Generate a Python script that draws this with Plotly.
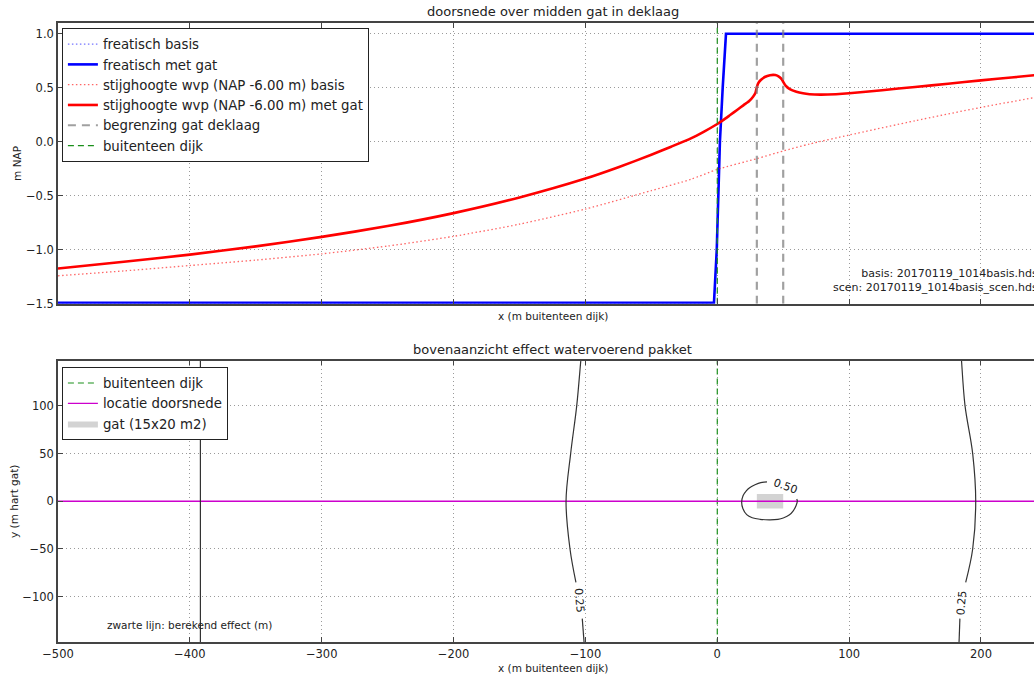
import plotly.graph_objects as go

# ---------------- doorsnede (cross-section) data ----------------
x_freatisch = [-500, -2.5, -0.4, 0.6, 2.0, 4.1, 6.6, 250]
freatisch_basis = [-1.49, -1.49, -1.0, -0.5, 0.0, 0.5, 1.0, 1.0]
freatisch_met_gat = [-1.49, -1.49, -1.0, -0.5, 0.0, 0.5, 1.0, 1.0]

x_stijg_basis = [-500, -450, -400, -350, -300, -250, -200, -150, -100, -50,
                 -20, 0, 30, 50, 70, 100, 150, 200, 250]
stijg_basis = [-1.24, -1.195, -1.145, -1.095, -1.037, -0.965, -0.875, -0.762,
               -0.622, -0.452, -0.347, -0.255, -0.156, -0.085, -0.02, 0.063,
               0.195, 0.319, 0.43]

x_stijg_gat = [-500, -450, -400, -350, -300, -250, -200, -150, -100, -75, -50,
               -35, -20, -10, 0, 5, 10, 15, 20, 24, 27, 29, 30, 31, 33, 36, 40,
               44, 47, 49, 50, 52, 55, 60, 65, 70, 78, 90, 100, 125, 150, 175,
               200, 225, 250]
stijg_gat = [-1.173, -1.11, -1.044, -0.968, -0.88, -0.78, -0.66, -0.515, -0.34,
             -0.235, -0.12, -0.045, 0.032, 0.095, 0.165, 0.205, 0.25, 0.295,
             0.34, 0.375, 0.415, 0.455, 0.505, 0.54, 0.572, 0.60, 0.617, 0.618,
             0.602, 0.578, 0.555, 0.517, 0.487, 0.463, 0.449, 0.441, 0.437,
             0.441, 0.449, 0.478, 0.508, 0.538, 0.569, 0.598, 0.628]

gat_grenzen = [30, 50]          # x-limits of the hole in the cover layer
gat_breedte_y = [-7.5, 7.5]     # y-limits of the hole (15 x 20 m2)
buitenteen = 0

# ---------------- bovenaanzicht (plan view) contours ----------------
c025_links_boven_x = [-103.3, -103.6, -106.6, -111.2, -114.7, -111.7, -107.2]
c025_links_boven_y = [150, 146, 100, 50, 0, -50, -85]
c025_links_onder_x = [-102.4, -100.9]
c025_links_onder_y = [-123, -150]

c025_rechts_boven_x = [185.1, 185.3, 187.9, 193.7, 196.0, 193.7, 188.4]
c025_rechts_boven_y = [150, 146, 100, 50, 0, -50, -85]
c025_rechts_onder_x = [184.0, 183.3]
c025_rechts_onder_y = [-123, -150]

c050_x = [37.7, 33.0, 28.6, 24.8, 22.0, 19.6, 18.5, 19.4, 22.3, 26.5, 32.4,
          40.0, 46.0, 50.0, 54.5, 57.6, 59.8, 60.7, 60.2]
c050_y = [20.4, 19.6, 17.3, 14.5, 11.0, 6.0, -1.0, -7.5, -14.0, -17.3, -18.9,
          -19.4, -18.9, -17.6, -14.5, -10.0, -4.5, 0.5, 2.3]

c_rand_x = [-392, -392]
c_rand_y = [-150, 150]

y_ticks_top = [1.0, 0.5, 0.0, -0.5, -1.0, -1.5]
y_ticks_bot = [100, 50, 0, -50, -100]
x_ticks = [-500, -400, -300, -200, -100, 0, 100, 200]

FONT = "DejaVu Sans"
TXT = "#222222"
FRAME = "#444444"
GRID = "#9a9a9a"
GROEN = "#1a8f1a"
MAGENTA = "#cc00cc"

fig = go.Figure()

# ---- top panel ----
fig.add_trace(go.Scatter(x=x_freatisch, y=freatisch_basis, mode="lines",
                         name="freatisch basis", xaxis="x", yaxis="y",
                         line=dict(color="rgba(0,0,255,0.55)", width=1.3, dash="1.5px,2.5px")))
fig.add_trace(go.Scatter(x=x_freatisch, y=freatisch_met_gat, mode="lines",
                         name="freatisch met gat", xaxis="x", yaxis="y",
                         line=dict(color="#0000ff", width=2.6)))
fig.add_trace(go.Scatter(x=x_stijg_basis, y=stijg_basis, mode="lines",
                         name="stijghoogte wvp (NAP -6.00 m) basis", xaxis="x", yaxis="y",
                         line=dict(color="rgba(255,0,0,0.6)", width=1.3, dash="1.5px,2.5px",
                                   shape="spline", smoothing=0.6)))
fig.add_trace(go.Scatter(x=x_stijg_gat, y=stijg_gat, mode="lines",
                         name="stijghoogte wvp (NAP -6.00 m) met gat", xaxis="x", yaxis="y",
                         line=dict(color="#ff0000", width=2.6, shape="spline", smoothing=0.5)))
fig.add_trace(go.Scatter(x=[gat_grenzen[0], gat_grenzen[0], None, gat_grenzen[1], gat_grenzen[1]],
                         y=[-1.5, 1.1, None, -1.5, 1.1], mode="lines",
                         name="begrenzing gat deklaag", xaxis="x", yaxis="y",
                         line=dict(color="rgba(128,128,128,0.75)", width=2.2, dash="8px,6px")))
fig.add_trace(go.Scatter(x=[buitenteen, buitenteen], y=[-1.5, 1.1], mode="lines",
                         name="buitenteen dijk", xaxis="x", yaxis="y",
                         line=dict(color=GROEN, width=1.2, dash="6px,4px")))

# ---- bottom panel ----
fig.add_trace(go.Scatter(x=[buitenteen, buitenteen], y=[-150, 150], mode="lines",
                         name="buitenteen dijk", xaxis="x2", yaxis="y2", legend="legend2",
                         legendrank=1,
                         line=dict(color=GROEN, width=1.2, dash="6px,4px")))
fig.add_trace(go.Scatter(x=[gat_grenzen[0], gat_grenzen[1], gat_grenzen[1], gat_grenzen[0], gat_grenzen[0]],
                         y=[gat_breedte_y[0], gat_breedte_y[0], gat_breedte_y[1], gat_breedte_y[1], gat_breedte_y[0]],
                         mode="lines", fill="toself", fillcolor="#d3d3d3",
                         name="gat (15x20 m2)", xaxis="x2", yaxis="y2", legend="legend2",
                         legendrank=3, line=dict(width=0, color="#d3d3d3")))
fig.add_trace(go.Scatter(x=[-500, 250], y=[0, 0], mode="lines",
                         name="locatie doorsnede", xaxis="x2", yaxis="y2", legend="legend2",
                         legendrank=2, line=dict(color=MAGENTA, width=1.3)))

contour_line = dict(color="#333333", width=1.2, shape="spline")
for cx, cy in [(c025_links_boven_x, c025_links_boven_y), (c025_links_onder_x, c025_links_onder_y),
               (c025_rechts_boven_x, c025_rechts_boven_y), (c025_rechts_onder_x, c025_rechts_onder_y),
               (c050_x, c050_y), (c_rand_x, c_rand_y)]:
    fig.add_trace(go.Scatter(x=cx, y=cy, mode="lines", showlegend=False,
                             xaxis="x2", yaxis="y2", hoverinfo="skip", line=contour_line))

# ---- layout ----
H_TOP = (642.3 - 304) / 619.3
H_BOT = (642.3 - 360.7) / 619.3

axis_common = dict(showline=True, linecolor=FRAME, linewidth=1.6, ticks="inside",
                   ticklen=5, tickcolor=FRAME, tickwidth=1, showgrid=True,
                   gridcolor=GRID, griddash="1px,3px", gridwidth=1, zeroline=False,
                   tickfont=dict(family=FONT, size=11.5, color=TXT))
ytitle_font = dict(family=FONT, size=10.5, color=TXT)

fig.update_layout(
    width=1034, height=676,
    margin=dict(l=58, r=0, t=23, b=34),
    paper_bgcolor="white", plot_bgcolor="white",
    font=dict(family=FONT, color=TXT),
    xaxis=dict(axis_common, domain=[0, 1], range=[-500, 240.2], anchor="y",
               tickvals=x_ticks, showticklabels=False, mirror="ticks"),
    yaxis=dict(axis_common, domain=[H_TOP, 1], range=[-1.5, 1.1], anchor="x",
               tickvals=y_ticks_top, tickformat=".1f", mirror=False,
               title=dict(text="m NAP", font=ytitle_font, standoff=2)),
    xaxis2=dict(axis_common, domain=[0, 1], range=[-500, 240.2], anchor="y2",
                tickvals=x_ticks, mirror="ticks"),
    yaxis2=dict(axis_common, domain=[0, H_BOT], range=[-147.5, 147.5], anchor="x2",
                tickvals=y_ticks_bot, mirror=False,
                title=dict(text="y (m hart gat)", font=ytitle_font, standoff=2)),
    legend=dict(x=0.004, y=0.992, xanchor="left", yanchor="top",
                bgcolor="white", bordercolor="#222", borderwidth=1,
                font=dict(family=FONT, size=13.3, color=TXT), tracegroupgap=0),
    legend2=dict(x=0.004, y=0.4445, xanchor="left", yanchor="top",
                 bgcolor="white", bordercolor="#222", borderwidth=1,
                 font=dict(family=FONT, size=13.3, color=TXT), tracegroupgap=0),
    showlegend=True,
)

CENTER = (552.6 - 58) / 976

def note(text, x, y, xref="paper", yref="paper", size=11, **kw):
    fig.add_annotation(text=text, x=x, y=y, xref=xref, yref=yref, showarrow=False,
                       font=dict(family=FONT, size=size, color=TXT), **kw)

note("doorsnede over midden gat in deklaag", CENTER, 1.0, size=13,
     yanchor="bottom", yshift=2)
note("bovenaanzicht effect watervoerend pakket", CENTER, H_BOT, size=13,
     yanchor="bottom", yshift=2)
note("x (m buitenteen dijk)", CENTER, H_TOP, size=10.5, yanchor="top", yshift=-4)
note("x (m buitenteen dijk)", CENTER, 0, size=10.5, yanchor="top", yshift=-18)
note("basis: 20170119_1014basis.hds<br>scen: 20170119_1014basis_scen.hds",
     1.0065, -1.43, yref="y", size=11, xanchor="right", yanchor="bottom", align="right")
note("zwarte lijn: berekend effect (m)", -464, -130, xref="x2", yref="y2",
     size=10.5, xanchor="left")
note("0.25", -104.7, -104, xref="x2", yref="y2", size=11, textangle=85)
note("0.25", 185.4, -106, xref="x2", yref="y2", size=11, textangle=-85)
note("0.50", 52, 15, xref="x2", yref="y2", size=11, textangle=20)

fig.write_html("out.html")
